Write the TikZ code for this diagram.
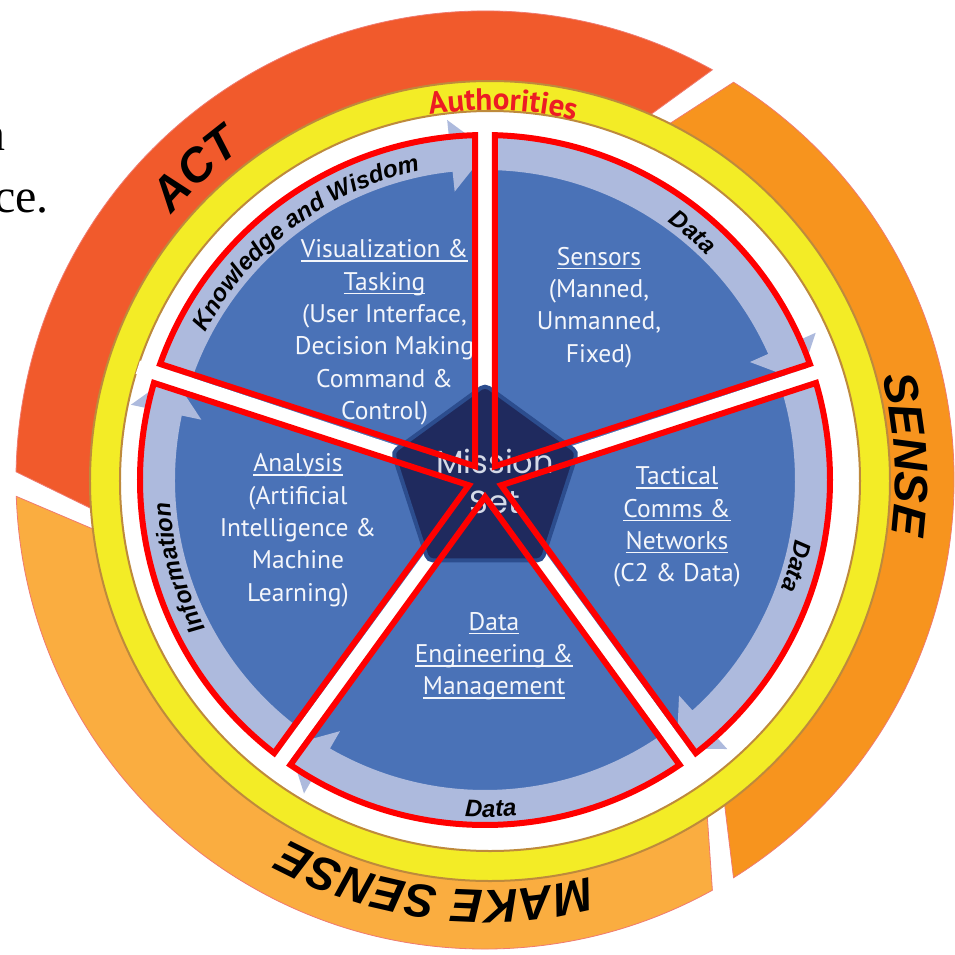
\documentclass[tikz,border=0pt]{standalone}
\usepackage{fontspec}
\setmainfont{Liberation Serif}
\newfontfamily\labelfont{PT Sans}
\newfontfamily\brushfont{Liberation Sans}
\newfontfamily\missionfont{Poppins}
\usetikzlibrary{decorations.text}
\definecolor{actc}{HTML}{F15A2C}
\definecolor{sensec}{HTML}{F7941E}
\definecolor{makec}{HTML}{FAAD40}
\definecolor{ringedge}{HTML}{F07A70}
\definecolor{yel}{HTML}{F3EC26}
\definecolor{brownedge}{HTML}{BE8A3C}
\definecolor{wedgeblue}{HTML}{4A72B7}
\definecolor{bandblue}{HTML}{ADBADD}
\definecolor{navy}{HTML}{1F2A5E}
\definecolor{navyedge}{HTML}{2C4D8E}
\definecolor{authred}{HTML}{EC1C24}
\definecolor{labelwhite}{HTML}{F4F6FB}
\definecolor{missiongray}{HTML}{D5DAE8}
\newcommand\ulbar[1]{\setbox0\hbox{#1}\rlap{\rule[-4pt]{\wd0}{1.4pt}}\box0}
\begin{document}
\begin{tikzpicture}[x=1pt,y=1pt,
  seg/.style={draw=ringedge, line width=0.8},
  gapstrip/.style={draw=white, line width=14},
  redwedge/.style={draw=red, line width=6, line join=miter},
  wlabel/.style={anchor=north, align=center, inner sep=0, text=labelwhite,
    font=\labelfont\fontsize{25.5}{32.3}\selectfont},
  ringtxt/.style={decorate, decoration={text along path, text align=center,
    text={|\brushfont\bfseries\itshape\fontsize{47}{47}\selectfont|#1}}},
  bandtxt/.style={decorate, decoration={text along path, text align=center,
    text={|\brushfont\bfseries\itshape\fontsize{24}{24}\selectfont|#1}}},
  authtxt/.style={decorate, decoration={text along path, text align=center, text color=authred,
    text={|\labelfont\bfseries\fontsize{31}{31}\selectfont|#1}}}]
\useasboundingbox (-485,-474) rectangle (470,480);
\fill[white] (-485,-474) rectangle (470,480);
% cut-off text at the left edge
\node[anchor=base east, inner sep=0, font=\fontsize{48}{48}\selectfont] (leftn) at (-479,330) {n};
\node[anchor=base east, inner sep=0, font=\fontsize{48}{48}\selectfont] (leftce) at (-436,268) {ce.};
% outer ring segments
\foreach \c/\a/\b in {actc/61/179, sensec/-58/58, makec/182/299}
  \filldraw[seg, fill=\c] (\a:469) arc[start angle=\a, end angle=\b, radius=469]
    -- ({\b+6}:385) arc[start angle={\b+6}, end angle={\a+6}, radius=385] -- cycle;
% yellow ring
\fill[yel] (5,-1) circle[radius=400];
\draw[brownedge, line width=2] (5,-1) circle[radius=400];
\fill[white] (5,-1) circle[radius=370];
\draw[brownedge, line width=2] (5,-1) circle[radius=370];
% pie
\fill[wedgeblue] (0,0) circle[radius=340];
\foreach \a/\b in {18/90,-54/18,-126/-54,-198/-126,90/162}
  \fill[bandblue] ({\b-1}:345) arc[start angle={\b-1}, end angle={\a+6}, radius=345]
    -- ({\a+6}:362) -- ({\a-0.5}:330) -- ({\a+6}:290) -- ({\a+6}:310)
    arc[start angle={\a+6}, end angle={\b-1}, radius=310] -- cycle;
\foreach \g in {90,18,-54,-126,162} \draw[gapstrip] (0,-2) -- (\g:365);
% pentagon
\filldraw[fill=navy, draw=navyedge, line width=4, rounded corners=5]
  ([shift={(0,-2)}]90:97) -- ([shift={(0,-2)}]162:97) -- ([shift={(0,-2)}]234:97)
  -- ([shift={(0,-2)}]306:97) -- ([shift={(0,-2)}]18:97) -- cycle;
% wedge labels
\node[wlabel] (viz) at (-100.5,240.5) {\ulbar{Visualization \&}\\\ulbar{Tasking}\\(User Interface,\\Decision Making\\Command \&\\Control)};
\node[wlabel] (sensors) at (114,233) {\ulbar{Sensors}\\(Manned,\\Unmanned,\\Fixed)};
\node[wlabel] (tactical) at (192,13.5) {\ulbar{Tactical}\\\ulbar{Comms \&}\\\ulbar{Networks}\\(C2 \& Data)};
\node[wlabel] (dataeng) at (9,-132) {\ulbar{Data}\\\ulbar{Engineering \&}\\\ulbar{Management}};
\node[wlabel] (analysis) at (-187,26.5) {\ulbar{Analysis}\\(Artificial\\Intelligence \&\\Machine\\Learning)};
\node[align=center, inner sep=0, text=missiongray, font=\missionfont\fontsize{32}{40}\selectfont] (mission) at (10,-1.5) {Mission\\Set};
% red wedge outlines
\foreach \a/\b in {18/90,-54/18,-126/-54,-198/-126,90/162} {
  \pgfmathsetmacro\m{(\a+\b)/2}
  \draw[redwedge] (\m:17) -- ({\a+1.66}:345) arc[start angle={\a+1.66}, end angle={\b-1.66}, radius=345] -- cycle;
}
% band texts
\path[bandtxt=Knowledge and Wisdom] (162:316) arc[start angle=162, end angle=92, radius=316];
\path[bandtxt=Data] (65:316) arc[start angle=65, end angle=35, radius=316];
\path[bandtxt=Data] (0:316) arc[start angle=0, end angle=-31, radius=316];
\path[bandtxt=Data] (-104:337) arc[start angle=-104, end angle=-74, radius=337];
\path[bandtxt=Information] (213:316) arc[start angle=213, end angle=179, radius=316];
% ring texts
\path[ringtxt=ACT] (150:410) arc[start angle=150, end angle=116, radius=410];
\path[ringtxt=SENSE] (20:410) arc[start angle=20, end angle=-13, radius=410];
\path[ringtxt=MAKE SENSE] (-70:410) arc[start angle=-70, end angle=-124, radius=410];
\path[authtxt=Authorities] ([shift={(5,-1)}]101:371) arc[start angle=101, end angle=75, radius=371];
\end{tikzpicture}
\end{document}
